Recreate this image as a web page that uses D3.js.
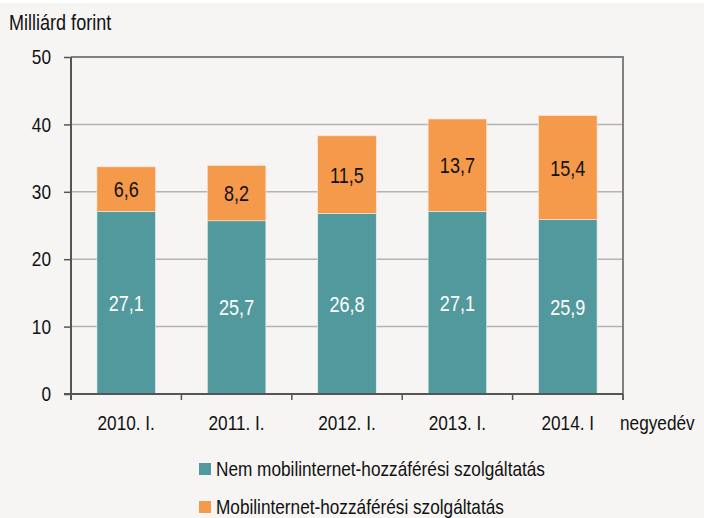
<!DOCTYPE html>
<html>
<head>
<meta charset="utf-8">
<script src="https://cdn.jsdelivr.net/npm/d3@7"></script>
<style>
  body { margin: 0; background: #fff; }
  text { font-family: "Liberation Sans", Arial, sans-serif; }
</style>
</head>
<body>
<script>
// data
let years = ["2010. I.", "2011. I.", "2012. I.", "2013. I.", "2014. I"];
let nemMobil = [27.1, 25.7, 26.8, 27.1, 25.9];
let mobil = [6.6, 8.2, 11.5, 13.7, 15.4];
let yTicks = [0, 10, 20, 30, 40, 50];
let seriesNames = ["Nem mobilinternet-hozzáférési szolgáltatás", "Mobilinternet-hozzáférési szolgáltatás"];
let colors = ["#52999e", "#f5994b"];

let W = 704, H = 518;
let squeeze = 0.82; // narrow look of the original font

let svg = d3.select("body").append("svg")
    .attr("width", W)
    .attr("height", H);

// place a text at (x, y) squeezed horizontally
function narrowText(parent, tx, ty) {
    return parent.append("text")
        .attr("transform", `translate(${tx},${ty}) scale(${squeeze},1)`);
}

// background
svg.append("rect").attr("x", 0).attr("y", 3).attr("width", W).attr("height", H - 3)
    .attr("fill", "#f6f5f3");

let pLeft = 71, pRight = 623, pTop = 57, pBottom = 394;

let x = d3.scaleBand().domain(years).range([pLeft, pRight]).paddingInner(0.47).paddingOuter(0.235);
let xb = d3.scaleBand().domain(years).range([pLeft, pRight]);
let y = d3.scaleLinear().domain([0, 50]).range([pBottom, pTop]);

// gridlines
svg.selectAll(".grid")
    .data(yTicks.filter(d => d > 0 && d < 50))
    .enter().append("line")
    .attr("x1", pLeft).attr("x2", pRight)
    .attr("y1", d => y(d)).attr("y2", d => y(d))
    .attr("stroke", "#b4b4b4").attr("stroke-width", 1.5);

// stacked bars
let rows = years.map((yr, i) => ({ year: yr, a: nemMobil[i], b: mobil[i] }));

svg.selectAll(".barA")
    .data(rows)
    .enter().append("rect")
    .attr("x", d => x(d.year))
    .attr("width", x.bandwidth())
    .attr("y", d => y(d.a))
    .attr("height", d => y(0) - y(d.a))
    .attr("fill", colors[0])
    .attr("stroke", "#e8f0f0").attr("stroke-width", 0.6);

svg.selectAll(".barB")
    .data(rows)
    .enter().append("rect")
    .attr("x", d => x(d.year))
    .attr("width", x.bandwidth())
    .attr("y", d => y(d.a + d.b))
    .attr("height", d => y(d.a) - y(d.a + d.b))
    .attr("fill", colors[1])
    .attr("stroke", "#fbe6d6").attr("stroke-width", 0.6);

let fmt = v => v.toFixed(1).replace(".", ",");

rows.forEach(d => {
    let cx = x(d.year) + x.bandwidth() / 2;
    narrowText(svg, cx, (y(0) + y(d.a)) / 2 + 8)
        .attr("text-anchor", "middle")
        .attr("font-size", 22)
        .attr("fill", "#fff")
        .text(fmt(d.a));
    narrowText(svg, cx, (y(d.a) + y(d.a + d.b)) / 2 + 8)
        .attr("text-anchor", "middle")
        .attr("font-size", 22)
        .attr("fill", "#111")
        .text(fmt(d.b));
});

// frame: top and right
svg.append("line").attr("x1", pLeft).attr("x2", pRight + 1).attr("y1", pTop).attr("y2", pTop)
    .attr("stroke", "#7f8285").attr("stroke-width", 2);
svg.append("line").attr("x1", pRight).attr("x2", pRight).attr("y1", pTop).attr("y2", pBottom + 6)
    .attr("stroke", "#7f8285").attr("stroke-width", 2);

// y axis
let yAxis = d3.axisLeft(y).tickValues(yTicks).tickSize(7).tickPadding(13).tickFormat(d3.format("d"));
let gy = svg.append("g").attr("transform", `translate(${pLeft},0)`).call(yAxis);
gy.select(".domain").attr("stroke", "#555").attr("stroke-width", 2)
    .attr("d", `M0,${pTop}V${pBottom + 6}`);
gy.selectAll(".tick line").attr("stroke", "#555").attr("stroke-width", 1.5);
gy.selectAll("text")
    .attr("font-size", 21).attr("fill", "#111").attr("font-family", null)
    .attr("x", -20 / squeeze)
    .attr("transform", `scale(${squeeze},1)`);

// x axis
let gx = svg.append("g").attr("transform", `translate(0,${pBottom})`);
gx.append("line").attr("x1", pLeft - 7).attr("x2", pRight).attr("y1", 0).attr("y2", 0)
    .attr("stroke", "#555").attr("stroke-width", 2);
let edges = years.map(d => xb(d)).concat([pRight]);
gx.selectAll(".xt")
    .data(edges)
    .enter().append("line")
    .attr("x1", d => d).attr("x2", d => d)
    .attr("y1", 0).attr("y2", 6)
    .attr("stroke", "#555").attr("stroke-width", 1.5);
years.forEach(d => {
    narrowText(gx, xb(d) + xb.bandwidth() / 2, 36)
        .attr("text-anchor", "middle")
        .attr("font-size", 21)
        .attr("fill", "#111")
        .text(d);
});

narrowText(svg, 620, 430).attr("font-size", 21).attr("fill", "#111").text("negyedév");

narrowText(svg, 9, 30).attr("font-size", 22).attr("fill", "#111").text("Milliárd forint");

// legend
seriesNames.forEach((name, i) => {
    let g = svg.append("g").attr("transform", `translate(199,${463 + i * 38})`);
    g.append("rect").attr("x", 0).attr("y", 0).attr("width", 12).attr("height", 12)
        .attr("fill", colors[i]);
    narrowText(g, 17, 13).attr("font-size", 21).attr("fill", "#111").text(name);
});
</script>
</body>
</html>
